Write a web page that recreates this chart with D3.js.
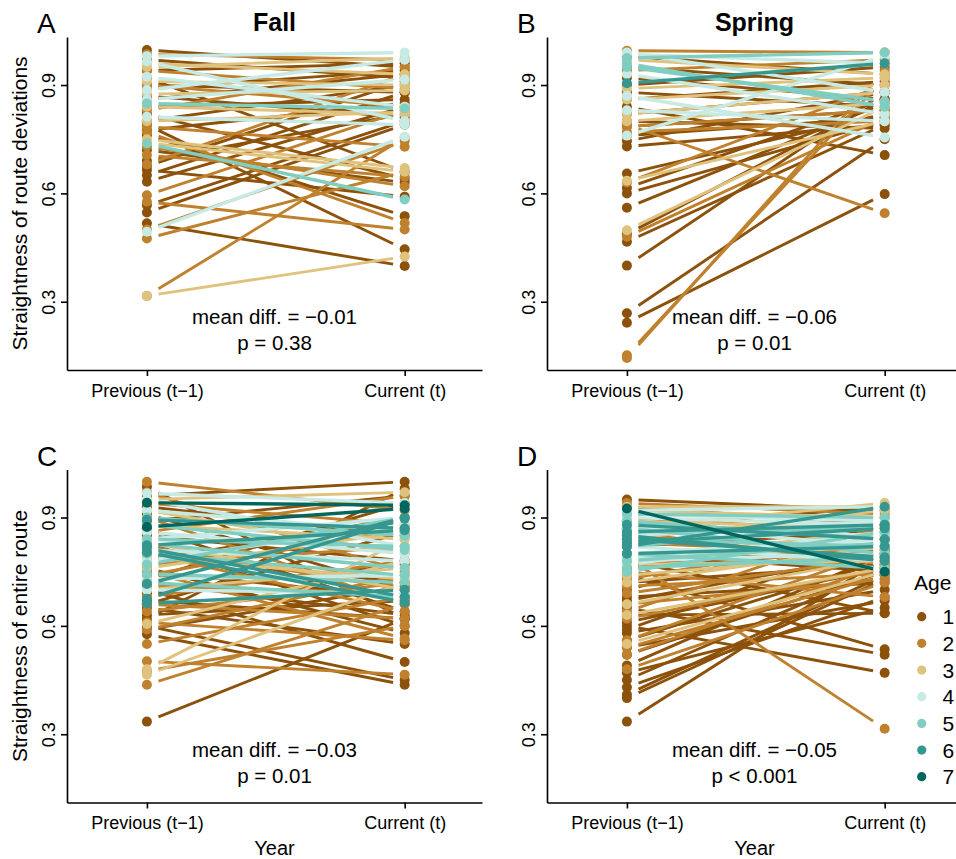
<!DOCTYPE html>
<html>
<head>
<meta charset="utf-8">
<script src="https://cdn.jsdelivr.net/npm/d3@7.9.0/dist/d3.min.js"></script>
<style>
  body { margin: 0; background: #fff; }
  svg text { font-family: "Liberation Sans", Arial, Helvetica, sans-serif; fill: #000; }
</style>
</head>
<body>
<svg id="chart" width="956" height="859"></svg>
<script>
const ages = [1, 2, 3, 4, 5, 6, 7];
const ageColors = ['#8c510a', '#bf812d', '#dfc27d', '#c7eae5', '#80cdc1', '#35978f', '#01665e'];
const yearLabels = ['Previous (t\u22121)', 'Current (t)'];
const yTicks = [0.3, 0.6, 0.9];
const panelLetters = ['A', 'B', 'C', 'D'];
const seasonTitles = ['Fall', 'Spring'];
const yTitles = ['Straightness of route deviations', 'Straightness of entire route'];
const meanDiffs = ['\u22120.01', '\u22120.06', '\u22120.03', '\u22120.05'];
const pValues = ['p = 0.38', 'p = 0.01', 'p = 0.01', 'p < 0.001'];

// each row: [age, previous year (t-1), current year (t)]
const fallDeviation = [
  [1, 0.997, 0.95], [1, 0.97, 0.92], [1, 0.94, 0.96], [1, 0.92, 0.66], [1, 0.90, 0.88],
  [1, 0.89, 0.94], [1, 0.87, 0.81], [1, 0.86, 0.93], [1, 0.84, 0.86], [1, 0.82, 0.64],
  [1, 0.80, 0.90], [1, 0.79, 0.445], [1, 0.775, 0.85], [1, 0.762, 0.537], [1, 0.72, 0.63],
  [1, 0.69, 0.82], [1, 0.675, 0.91], [1, 0.665, 0.591], [1, 0.65, 0.88], [1, 0.632, 0.84],
  [1, 0.567, 0.80], [1, 0.547, 0.79], [1, 0.517, 0.399],
  [2, 0.985, 0.97], [2, 0.94, 0.89], [2, 0.90, 0.84], [2, 0.83, 0.95], [2, 0.785, 0.729],
  [2, 0.77, 0.518], [2, 0.73, 0.62], [2, 0.706, 0.646], [2, 0.68, 0.93], [2, 0.595, 0.83],
  [2, 0.577, 0.50], [2, 0.50, 0.745], [2, 0.475, 0.66], [2, 0.316, 0.755],
  [3, 0.96, 0.93], [3, 0.95, 0.975], [3, 0.91, 0.90], [3, 0.875, 0.885], [3, 0.84, 0.82],
  [3, 0.80, 0.825], [3, 0.75, 0.67], [3, 0.74, 0.66], [3, 0.316, 0.425],
  [4, 0.98, 0.99], [4, 0.965, 0.80], [4, 0.923, 0.84], [4, 0.886, 0.97], [4, 0.86, 0.915],
  [4, 0.812, 0.79], [4, 0.494, 0.757],
  [5, 0.849, 0.835], [5, 0.738, 0.583]
];

const springDeviation = [
  [1, 0.98, 0.93], [1, 0.95, 0.90], [1, 0.92, 0.86], [1, 0.90, 0.95], [1, 0.88, 0.84],
  [1, 0.86, 0.91], [1, 0.84, 0.706], [1, 0.82, 0.88], [1, 0.80, 0.78], [1, 0.785, 0.83],
  [1, 0.76, 0.81], [1, 0.745, 0.88], [1, 0.73, 0.79], [1, 0.655, 0.82], [1, 0.615, 0.86],
  [1, 0.60, 0.80], [1, 0.56, 0.85], [1, 0.487, 0.86], [1, 0.466, 0.79], [1, 0.40, 0.88],
  [1, 0.268, 0.75], [1, 0.242, 0.598],
  [2, 0.995, 0.99], [2, 0.94, 0.97], [2, 0.79, 0.545], [2, 0.785, 0.83], [2, 0.77, 0.80],
  [2, 0.63, 0.90], [2, 0.48, 0.81], [2, 0.152, 0.92], [2, 0.144, 0.94],
  [3, 0.97, 0.93], [3, 0.89, 0.92], [3, 0.86, 0.90], [3, 0.82, 0.88], [3, 0.80, 0.85],
  [3, 0.635, 0.80], [3, 0.498, 0.84],
  [4, 0.99, 0.88], [4, 0.985, 0.96], [4, 0.93, 0.82], [4, 0.87, 0.755], [4, 0.83, 0.80],
  [4, 0.76, 0.98],
  [5, 0.975, 0.99], [5, 0.96, 0.84], [5, 0.95, 0.855],
  [6, 0.905, 0.96]
];

const fallEntire = [
  [1, 0.985, 0.62], [1, 0.96, 0.999], [1, 0.93, 0.85], [1, 0.91, 0.70], [1, 0.89, 0.96],
  [1, 0.87, 0.64], [1, 0.85, 0.78], [1, 0.83, 0.60], [1, 0.80, 0.72], [1, 0.78, 0.90],
  [1, 0.76, 0.58], [1, 0.75, 0.68], [1, 0.73, 0.94], [1, 0.72, 0.63], [1, 0.70, 0.50],
  [1, 0.69, 0.77], [1, 0.67, 0.62], [1, 0.66, 0.86], [1, 0.65, 0.55], [1, 0.63, 0.67],
  [1, 0.62, 0.98], [1, 0.60, 0.45], [1, 0.59, 0.71], [1, 0.577, 0.437], [1, 0.335, 0.62],
  [2, 0.999, 0.92], [2, 0.97, 0.75], [2, 0.94, 0.88], [2, 0.90, 0.66], [2, 0.86, 0.96],
  [2, 0.82, 0.70], [2, 0.80, 0.64], [2, 0.77, 0.82], [2, 0.75, 0.565], [2, 0.74, 0.87],
  [2, 0.71, 0.69], [2, 0.68, 0.78], [2, 0.66, 0.62], [2, 0.64, 0.72], [2, 0.61, 0.56],
  [2, 0.59, 0.74], [2, 0.55, 0.68], [2, 0.502, 0.465], [2, 0.475, 0.60], [2, 0.437, 0.66],
  [3, 0.95, 0.97], [3, 0.92, 0.80], [3, 0.88, 0.84], [3, 0.83, 0.70], [3, 0.79, 0.73],
  [3, 0.76, 0.86], [3, 0.70, 0.76], [3, 0.605, 0.78], [3, 0.48, 0.84], [3, 0.465, 0.72],
  [4, 0.967, 0.94], [4, 0.95, 0.82], [4, 0.92, 0.86], [4, 0.86, 0.80], [4, 0.84, 0.90],
  [4, 0.81, 0.78], [4, 0.78, 0.88], [4, 0.73, 0.74], [4, 0.70, 0.69],
  [5, 0.90, 0.85], [5, 0.88, 0.81], [5, 0.84, 0.82], [5, 0.828, 0.76], [5, 0.80, 0.74],
  [5, 0.77, 0.90], [5, 0.744, 0.72], [5, 0.72, 0.68],
  [6, 0.894, 0.87], [6, 0.823, 0.865], [6, 0.814, 0.68], [6, 0.804, 0.665], [6, 0.716, 0.90],
  [6, 0.675, 0.897], [6, 0.662, 0.70],
  [7, 0.941, 0.934], [7, 0.874, 0.925]
];

const springEntire = [
  [1, 0.95, 0.92], [1, 0.93, 0.88], [1, 0.91, 0.90], [1, 0.89, 0.84], [1, 0.87, 0.93],
  [1, 0.85, 0.78], [1, 0.82, 0.86], [1, 0.80, 0.75], [1, 0.78, 0.635], [1, 0.76, 0.81],
  [1, 0.74, 0.535], [1, 0.72, 0.77], [1, 0.70, 0.88], [1, 0.68, 0.72], [1, 0.67, 0.80],
  [1, 0.65, 0.52], [1, 0.63, 0.635], [1, 0.61, 0.76], [1, 0.60, 0.47], [1, 0.59, 0.84],
  [1, 0.58, 0.70], [1, 0.56, 0.78], [1, 0.54, 0.67], [1, 0.52, 0.75], [1, 0.49, 0.80],
  [1, 0.47, 0.65], [1, 0.45, 0.76], [1, 0.43, 0.68], [1, 0.41, 0.74], [1, 0.40, 0.73],
  [1, 0.335, 0.79],
  [2, 0.94, 0.91], [2, 0.90, 0.86], [2, 0.86, 0.77], [2, 0.83, 0.80], [2, 0.79, 0.315],
  [2, 0.77, 0.82], [2, 0.75, 0.68], [2, 0.73, 0.85], [2, 0.71, 0.745], [2, 0.69, 0.79],
  [2, 0.66, 0.73], [2, 0.64, 0.88], [2, 0.62, 0.76], [2, 0.56, 0.81], [2, 0.54, 0.74],
  [2, 0.52, 0.77], [2, 0.48, 0.72],
  [3, 0.93, 0.93], [3, 0.92, 0.90], [3, 0.89, 0.87], [3, 0.87, 0.94], [3, 0.84, 0.92],
  [3, 0.79, 0.86], [3, 0.77, 0.78], [3, 0.74, 0.80], [3, 0.72, 0.82], [3, 0.66, 0.79],
  [3, 0.63, 0.76], [3, 0.55, 0.75],
  [4, 0.92, 0.93], [4, 0.91, 0.89], [4, 0.90, 0.88], [4, 0.88, 0.82], [4, 0.87, 0.85],
  [4, 0.85, 0.89], [4, 0.82, 0.78], [4, 0.80, 0.84], [4, 0.79, 0.82], [4, 0.78, 0.80],
  [4, 0.77, 0.86],
  [5, 0.91, 0.90], [5, 0.89, 0.84], [5, 0.87, 0.80], [5, 0.86, 0.87], [5, 0.84, 0.82],
  [5, 0.82, 0.88], [5, 0.80, 0.76], [5, 0.78, 0.83], [5, 0.76, 0.79], [5, 0.75, 0.86],
  [6, 0.88, 0.84], [6, 0.86, 0.88], [6, 0.85, 0.78], [6, 0.84, 0.79], [6, 0.83, 0.87],
  [6, 0.82, 0.93], [6, 0.80, 0.82],
  [7, 0.925, 0.75]
];

const panelData = [fallDeviation, springDeviation, fallEntire, springEntire];

const svg = d3.select('#chart');
const colOffset = 480, rowOffset = 432.5;
const plot = { left: 67, right: 482, top: 37, bottom: 370 };
const color = d3.scaleOrdinal().domain(ages).range(ageColors);

panelData.forEach((rows, i) => {
  const col = i % 2, row = Math.floor(i / 2);
  const g = svg.append('g').attr('transform', `translate(${col * colOffset},${row * rowOffset})`);

  const x = d3.scaleLinear().domain([0.69, 2.30]).range([plot.left, plot.right]);
  const y = d3.scaleLinear().domain([0.111, 1.033]).range([plot.bottom, plot.top]);
  const cx = (plot.left + plot.right) / 2;

  // segments between years, trimmed a bit away from the points
  const lo = 1.045, hi = 1.955;
  const sorted = d3.sort(rows, d => d[0]);
  g.append('g').selectAll('line')
    .data(sorted)
    .join('line')
    .attr('x1', x(lo)).attr('x2', x(hi))
    .attr('y1', d => y(d3.interpolateNumber(d[1], d[2])(lo - 1)))
    .attr('y2', d => y(d3.interpolateNumber(d[1], d[2])(hi - 1)))
    .attr('stroke', d => color(d[0]))
    .attr('stroke-width', d => d[0] >= 4 ? 3.4 : 2.9);

  const pts = g.append('g');
  [1, 2].forEach(k => {
    pts.selectAll(null)
      .data(sorted)
      .join('circle')
      .attr('cx', x(k))
      .attr('cy', d => y(d[k]))
      .attr('r', 5)
      .attr('fill', d => color(d[0]));
  });

  // axes
  const yAxis = g.append('g').attr('transform', `translate(${plot.left},0)`)
    .call(d3.axisLeft(y).tickValues(yTicks).tickFormat(d3.format('.1f')).tickSize(6).tickSizeOuter(0));
  yAxis.selectAll('text')
    .attr('transform', 'rotate(-90)')
    .attr('x', 0).attr('y', -12).attr('dy', 0)
    .attr('text-anchor', 'middle')
    .style('font-size', '18px');

  const xAxis = g.append('g').attr('transform', `translate(0,${plot.bottom})`)
    .call(d3.axisBottom(x).tickValues([1, 2]).tickFormat(v => yearLabels[v - 1]).tickSize(6).tickSizeOuter(0));
  xAxis.selectAll('text').attr('y', 14).style('font-size', '18px');

  [yAxis, xAxis].forEach(a => {
    a.selectAll('path, line').attr('stroke', '#000').attr('stroke-width', 1.6);
    a.attr('font-family', null).attr('font-size', null);
  });

  // panel letter and titles
  g.append('text').attr('x', 37).attr('y', 33).style('font-size', '28px').text(panelLetters[i]);
  if (row === 0) {
    g.append('text').attr('x', cx).attr('y', 31).attr('text-anchor', 'middle')
      .style('font-size', '25px').style('font-weight', 'bold').text(seasonTitles[col]);
  } else {
    g.append('text').attr('x', cx).attr('y', 422.5).attr('text-anchor', 'middle')
      .style('font-size', '20px').text('Year');
  }
  if (col === 0) {
    g.append('text')
      .attr('transform', `translate(27,${(plot.top + plot.bottom) / 2}) rotate(-90)`)
      .attr('text-anchor', 'middle').style('font-size', '21px')
      .text(yTitles[row]);
  }

  g.append('text').attr('x', cx).attr('y', 324).attr('text-anchor', 'middle')
    .style('font-size', '20.5px').text(`mean diff. = ${meanDiffs[i]}`);
  g.append('text').attr('x', cx).attr('y', 350).attr('text-anchor', 'middle')
    .style('font-size', '20.5px').text(pValues[i]);
});

// legend
const legend = svg.append('g').attr('transform', 'translate(914,590)');
legend.append('text').attr('x', 0).attr('y', 0).style('font-size', '21px').text('Age');
const items = legend.selectAll('g.item')
  .data(ages)
  .join('g')
  .attr('class', 'item')
  .attr('transform', (d, i) => `translate(0,${26.7 + i * 26.67})`);
items.append('circle').attr('cx', 7.7).attr('cy', 0).attr('r', 4.6).attr('fill', d => color(d));
items.append('text').attr('x', 28.5).attr('y', 0).attr('dy', '0.36em')
  .style('font-size', '21px').text(d => d);
</script>
</body>
</html>
